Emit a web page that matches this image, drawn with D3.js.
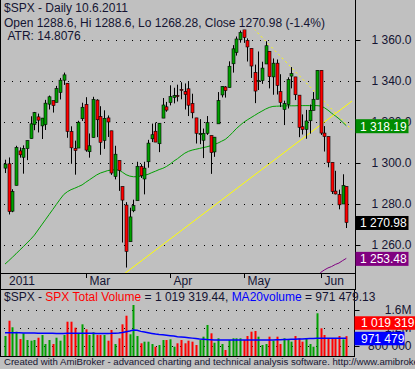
<!DOCTYPE html>
<html><head><meta charset="utf-8">
<script src="https://cdn.jsdelivr.net/npm/d3@7"></script>
<style>
body{margin:0;background:#c0c0c0;overflow:hidden;}
svg{display:block;font-family:"Liberation Sans",Arial,sans-serif;}
</style>
</head><body>
<svg id="c" width="415" height="369"></svg>
<script>
// ---------- DATA ----------
const dates = ["2011-01-27","2011-01-28","2011-01-31",
"2011-02-01","2011-02-02","2011-02-03","2011-02-04","2011-02-07","2011-02-08","2011-02-09","2011-02-10","2011-02-11","2011-02-14","2011-02-15","2011-02-16","2011-02-17","2011-02-18","2011-02-22","2011-02-23","2011-02-24","2011-02-25","2011-02-28",
"2011-03-01","2011-03-02","2011-03-03","2011-03-04","2011-03-07","2011-03-08","2011-03-09","2011-03-10","2011-03-11","2011-03-14","2011-03-15","2011-03-16","2011-03-17","2011-03-18","2011-03-21","2011-03-22","2011-03-23","2011-03-24","2011-03-25","2011-03-28","2011-03-29","2011-03-30","2011-03-31",
"2011-04-01","2011-04-04","2011-04-05","2011-04-06","2011-04-07","2011-04-08","2011-04-11","2011-04-12","2011-04-13","2011-04-14","2011-04-15","2011-04-18","2011-04-19","2011-04-20","2011-04-21","2011-04-25","2011-04-26","2011-04-27","2011-04-28","2011-04-29",
"2011-05-02","2011-05-03","2011-05-04","2011-05-05","2011-05-06","2011-05-09","2011-05-10","2011-05-11","2011-05-12","2011-05-13","2011-05-16","2011-05-17","2011-05-18","2011-05-19","2011-05-20","2011-05-23","2011-05-24","2011-05-25","2011-05-26","2011-05-27","2011-05-31",
"2011-06-01","2011-06-02","2011-06-03","2011-06-06","2011-06-07","2011-06-08","2011-06-09","2011-06-10"];

const openP = [1297.5,1299.6,1276.5,
1289.1,1305.9,1302.8,1307.0,1311.9,1318.8,1322.5,1318.1,1318.7,1328.7,1330.4,1329.6,1334.4,1340.4,1338.9,1315.4,1307.1,1307.3,1321.6,
1328.6,1305.5,1312.4,1330.7,1322.7,1311.0,1322.0,1315.7,1293.4,1301.2,1288.5,1279.5,1261.6,1276.7,1281.6,1298.3,1292.2,1300.6,1311.8,1315.5,1309.4,1321.9,1327.4,
1329.5,1332.0,1332.9,1335.9,1334.8,1336.2,1329.0,1322.0,1314.0,1311.1,1314.5,1313.4,1305.4,1319.1,1333.2,1337.1,1336.8,1348.4,1353.9,1360.1,
1365.2,1359.8,1355.9,1344.2,1340.2,1340.2,1348.3,1354.5,1342.0,1348.7,1334.8,1326.1,1328.5,1342.4,1342.0,1333.1,1317.7,1316.4,1320.6,1325.7,1331.1,
1345.2,1314.6,1312.9,1300.3,1286.3,1284.6,1280.0,1288.6];
const highP = [1301.6,1302.7,1287.2,
1308.4,1307.6,1308.6,1311.0,1322.8,1324.9,1324.1,1322.0,1330.8,1332.9,1330.4,1337.6,1341.5,1344.1,1338.9,1317.9,1310.9,1320.6,1329.4,
1332.1,1314.4,1332.3,1331.1,1327.7,1325.7,1323.2,1315.7,1308.4,1301.2,1288.5,1280.9,1278.2,1282.1,1300.6,1299.4,1300.6,1311.3,1319.2,1319.7,1319.5,1331.7,1329.8,
1337.9,1336.7,1338.2,1339.4,1338.8,1339.5,1333.8,1322.0,1321.4,1316.8,1322.9,1313.4,1312.7,1334.6,1337.5,1337.5,1349.6,1357.5,1361.7,1364.6,
1370.6,1360.8,1355.9,1348.0,1354.4,1349.4,1359.4,1354.5,1351.0,1350.5,1343.3,1330.4,1341.8,1346.8,1342.0,1333.1,1323.7,1325.9,1328.5,1334.6,1345.2,
1345.2,1318.0,1312.9,1300.3,1296.2,1287.0,1294.5,1288.6];
const lowP = [1295.1,1274.9,1276.0,
1289.1,1302.6,1294.8,1301.4,1311.9,1316.0,1314.9,1311.7,1316.1,1326.1,1324.6,1329.6,1331.0,1338.1,1312.3,1299.6,1294.3,1307.3,1320.5,
1305.5,1302.6,1312.4,1312.6,1304.0,1306.9,1312.7,1294.2,1292.0,1286.4,1261.2,1249.0,1261.6,1276.0,1281.6,1292.7,1284.7,1297.7,1310.2,1310.2,1305.3,1321.9,1325.0,
1328.1,1329.1,1330.0,1331.1,1326.1,1322.9,1321.8,1309.5,1309.2,1302.4,1313.7,1294.7,1303.0,1319.1,1332.0,1331.9,1336.8,1344.1,1352.4,1358.7,
1358.6,1349.5,1341.5,1329.2,1335.6,1338.6,1348.3,1336.4,1333.3,1333.4,1327.3,1318.5,1326.6,1336.4,1330.7,1312.6,1313.9,1311.8,1314.3,1325.7,1331.1,
1313.7,1305.6,1297.9,1284.9,1284.7,1277.4,1280.0,1268.28];
const closeP = [1299.5,1276.3,1286.1,
1307.6,1304.0,1307.1,1310.9,1319.1,1324.6,1320.9,1321.9,1329.2,1332.3,1328.0,1336.3,1340.4,1343.0,1315.4,1307.4,1306.1,1319.9,1327.2,
1306.3,1308.4,1331.0,1321.1,1310.1,1321.8,1320.0,1295.1,1304.3,1296.4,1281.9,1256.9,1273.7,1279.2,1298.4,1293.8,1297.5,1309.7,1313.8,1310.2,1319.4,1328.3,1325.8,
1332.4,1332.9,1332.6,1335.5,1333.5,1328.2,1324.5,1314.5,1314.4,1314.5,1319.7,1305.1,1312.6,1330.4,1337.4,1335.3,1347.2,1355.7,1360.5,1363.6,
1361.2,1356.6,1347.3,1335.1,1340.2,1346.3,1357.2,1342.1,1348.7,1337.8,1329.5,1329.0,1340.7,1343.6,1333.3,1317.4,1316.3,1320.5,1325.7,1331.1,1345.2,
1314.6,1312.9,1300.2,1286.1,1284.9,1279.6,1289.0,1270.98];

// moving average of price (green line)
const priceMA = [1250.7,1252.3,1254.0,1255.7,1257.5,1259.2,1261.0,1262.8,1264.8,1267.3,1269.8,1272.3,1274.8,1277.3,1279.8,1282.3,1284.6,1286.0,1287.0,1287.7,1288.5,1289.3,
1290.6,1291.8,1293.0,1294.2,1295.1,1295.7,1296.3,1296.6,1296.7,1296.6,1295.5,1294.3,1293.6,1293.3,1293.3,1293.6,1294.0,1294.5,1295.3,1296.0,1296.8,1297.4,1298.3,
1299.5,1300.9,1302.1,1303.5,1304.8,1305.7,1306.3,1306.7,1307.1,1307.5,1307.9,1308.4,1309.0,1309.7,1310.6,1311.5,1313.0,1314.8,1316.7,1318.3,
1319.8,1321.0,1322.1,1323.2,1324.3,1325.3,1326.3,1327.1,1327.6,1327.7,1327.8,1327.8,1327.9,1327.9,1327.9,1328.0,1328.0,1328.0,1328.0,1328.0,1328.0,
1327.8,1327.0,1325.8,1324.3,1323.0,1321.6,1319.9,1318.19];

// purple lower line (only visible at the end)
const lowerLine = [null,null,null,null,null,null,null,null,null,null,null,null,null,null,null,null,null,null,null,null,null,null,
null,null,null,null,null,null,null,null,null,null,null,null,null,null,null,null,null,null,null,null,null,null,null,
null,null,null,null,null,null,null,null,null,null,null,null,null,null,null,null,null,null,null,null,
null,null,null,null,null,null,null,null,null,null,null,null,null,null,null,null,null,null,null,null,1244.5,
1246.6,1247.8,1248.8,1249.5,1250.5,1251.2,1252.4,1253.48];

const volume = [1022000,1362000,1216000,1118000,956000,1082000,933000,918000,933000,984000,1044000,844000,933000,844000,984000,918000,1044000,1340000,1340000,1207000,1089000,1282000,
1171000,1044000,1104000,1044000,1044000,1044000,918000,1156000,844000,971000,1282000,1473000,1060000,1711000,1022000,860000,896000,896000,844000,784000,822000,933000,933000,
949000,784000,860000,933000,860000,918000,896000,822000,933000,1007000,1267000,1082000,873000,971000,844000,711000,933000,971000,971000,971000,
933000,1022000,1118000,1133000,1007000,822000,844000,1007000,918000,1007000,844000,971000,933000,896000,1022000,971000,896000,971000,844000,784000,1527000,
1193000,1044000,971000,971000,971000,1022000,949000,1019319.44];

const volumeMA20 = [1096000,1095000,1094000,1093000,1092000,1091000,1090000,1089000,1087000,1085000,1084000,1083000,1082000,1081000,1080000,1080000,1080000,1082000,1083000,1082000,1081000,1082000,
1083000,1082000,1081000,1080000,1080000,1080000,1080000,1081000,1085000,1090000,1100000,1118000,1135000,1155000,1148000,1125000,1110000,1095000,1080000,1065000,1055000,1048000,1040000,
1030000,1020000,1008000,1000000,992000,985000,975000,965000,955000,948000,942000,938000,935000,933000,933000,933000,933000,933000,933000,933000,
933000,933000,933000,933000,933000,933000,933000,933000,935000,937000,940000,943000,946000,949000,952000,955000,958000,961000,964000,967000,970000,
971000,971000,971000,971000,971000,971000,971000,971479.13];

const priceTicks = [1260,1280,1300,1320,1340,1360];
const volumeTicks = [800000,1200000,1600000];
const monthNames = ["Jan","Feb","Mar","Apr","May","Jun"];

// trend lines drawn on the chart: [bar index, price]
const supportLine = [[32.7,1246.2],[94.55,1330.2]];
const resistanceLine = [[65,1370.6],[94.55,1316.1]];

// ---------- CHART ----------
const svg = d3.select("#c");
const W = 415, H = 369;
const plotR = 355, priceTop = 0, priceBot = 273;
const volTop = 290, volBot = 356;
const txt = "#141432";
const BG = "#c0c0c0";

svg.append("rect").attr("width",W).attr("height",H).attr("fill",BG);

const x = d3.scaleLinear().domain([0, dates.length-1]).range([5, 346.3]);
const y = d3.scaleLinear().domain([1260,1360]).range([245,40]);
const yv = d3.scaleLinear().domain([800000,1600000]).range([346,310]);

const defs = svg.append("defs");
defs.append("clipPath").attr("id","pclip").append("rect").attr("x",1).attr("y",priceTop).attr("width",plotR-1).attr("height",priceBot-priceTop);
defs.append("clipPath").attr("id","vclip").append("rect").attr("x",1).attr("y",volTop).attr("width",plotR-2).attr("height",volBot-volTop);

const spaceFmt = f => v => d3.format(f)(v).replace(/,/g," ");

// dotted gridlines
const grid = svg.append("g");
function dottedH(g, yy, x0, x1){
  g.append("line").attr("x1",x0).attr("x2",x1).attr("y1",Math.round(yy)+0.5).attr("y2",Math.round(yy)+0.5)
   .attr("stroke","#000").attr("stroke-width",1).attr("stroke-dasharray","1,7");
}
priceTicks.forEach(t => dottedH(grid, y(t), 4, plotR-1));
volumeTicks.forEach(t => dottedH(grid, yv(t), 4, plotR-2));

// price panel contents
const pg = svg.append("g").attr("clip-path","url(#pclip)");

pg.append("path").datum(priceMA)
  .attr("d", d3.line().x((d,i)=>x(i)).y(d=>y(d)))
  .attr("fill","none").attr("stroke","#00a000").attr("stroke-width",1);

pg.append("path").datum(lowerLine)
  .attr("d", d3.line().defined(d=>d!==null).x((d,i)=>x(i)).y(d=>y(d)))
  .attr("fill","none").attr("stroke","#800080").attr("stroke-width",1);

pg.append("line")
  .attr("x1",x(supportLine[0][0])).attr("y1",y(supportLine[0][1]))
  .attr("x2",x(supportLine[1][0])).attr("y2",y(supportLine[1][1]))
  .attr("stroke","#ffff00").attr("stroke-width",1);
pg.append("line")
  .attr("x1",x(resistanceLine[0][0])).attr("y1",y(resistanceLine[0][1]))
  .attr("x2",x(resistanceLine[1][0])).attr("y2",y(resistanceLine[1][1]))
  .attr("stroke","#ffff00").attr("stroke-width",1).attr("stroke-dasharray","2,3");

const candles = pg.append("g");
dates.forEach((d,i) => {
  const cx = Math.round(x(i));
  const up = closeP[i] >= openP[i];
  candles.append("line").attr("x1",cx+0.5).attr("x2",cx+0.5)
    .attr("y1",y(highP[i])).attr("y2",y(lowP[i])).attr("stroke","#000").attr("stroke-width",1);
  const top = y(Math.max(openP[i],closeP[i])), bot = y(Math.min(openP[i],closeP[i]));
  candles.append("rect").attr("x",cx-1).attr("width",3)
    .attr("y",top).attr("height",Math.max(1,bot-top))
    .attr("fill", up ? "#00a000" : "#ff0000").attr("stroke","#000").attr("stroke-width",0.6);
});

// title texts (opaque background like the original)
function titleLine(xx, yy, str){
  const g = svg.append("g");
  const bgr = g.append("rect").attr("fill",BG);
  const t = g.append("text").attr("x",xx).attr("y",yy).attr("font-size",12).attr("fill",txt).text(str);
  const b = t.node().getBBox();
  bgr.attr("x",3).attr("y",b.y).attr("width",b.x+b.width+1-3).attr("height",b.height);
}
titleLine(4, 12, "$SPX - Daily 10.6.2011");
titleLine(4, 26.5, `Open ${openP[93]}, Hi ${highP[93]}, Lo ${lowP[93]}, Close ${closeP[93]} (-1.4%)`);
titleLine(7.5, 40, "ATR: 14.8076");

// frame lines
svg.append("line").attr("x1",0.5).attr("x2",0.5).attr("y1",0).attr("y2",volBot+0.5).attr("stroke","#000");
svg.append("line").attr("x1",plotR+0.5).attr("x2",plotR+0.5).attr("y1",0).attr("y2",289.5).attr("stroke","#000");
svg.append("line").attr("x1",0).attr("x2",plotR+1).attr("y1",priceBot+0.5).attr("y2",priceBot+0.5).attr("stroke","#000");
svg.append("line").attr("x1",0).attr("x2",plotR+1).attr("y1",289.5).attr("y2",289.5).attr("stroke","#000");
svg.append("line").attr("x1",plotR-0.5).attr("x2",plotR-0.5).attr("y1",volTop).attr("y2",volBot+0.5).attr("stroke","#000");
svg.append("line").attr("x1",0).attr("x2",plotR).attr("y1",volBot+0.5).attr("y2",volBot+0.5).attr("stroke","#000");

// price axis
const pAxis = svg.append("g").attr("transform",`translate(${plotR+0.5},0)`)
  .call(d3.axisRight(y).tickValues(priceTicks).tickSize(5).tickFormat(spaceFmt(",.1f")));
pAxis.select(".domain").remove();
pAxis.selectAll("line").attr("stroke","#000");
pAxis.selectAll("text").attr("x",56).attr("text-anchor","end").attr("fill",txt)
  .attr("font-size",12).attr("font-family","Liberation Sans, Arial, sans-serif");

// price value boxes
function valueBox(val, bg, yc, fmt){
  const g = svg.append("g");
  g.append("rect").attr("x",plotR+0.5).attr("y",yc-6.5).attr("width",53).attr("height",14).attr("fill",bg);
  g.append("text").attr("x",plotR+5).attr("y",yc+4.8).attr("fill","#fff").attr("font-size",12).text(fmt(val));
}
valueBox(priceMA[93], "#008c00", y(priceMA[93]), spaceFmt(",.2f"));
valueBox(closeP[93], "#000000", y(closeP[93]), spaceFmt(",.2f"));
valueBox(lowerLine[93], "#800080", y(lowerLine[93]), spaceFmt(",.2f"));

// date axis
const dg = svg.append("g").attr("font-size",12).attr("fill",txt);
dates.forEach((d,i) => {
  const m = +d.slice(5,7), pm = i>0 ? +dates[i-1].slice(5,7) : null;
  if (i===0) {
    dg.append("text").attr("x",x(i)+4).attr("y",285).text(d.slice(0,4));
  } else if (m !== pm && m !== 2) {
    const xx = Math.round(x(i))+0.5;
    dg.append("line").attr("x1",xx).attr("x2",xx).attr("y1",priceBot).attr("y2",priceBot+5).attr("stroke","#000");
    dg.append("text").attr("x",xx+3).attr("y",285).text(monthNames[m-1]);
  }
});

// volume panel
const vg = svg.append("g").attr("clip-path","url(#vclip)");
volume.forEach((v,i) => {
  const up = closeP[i] >= openP[i];
  const cx = Math.round(x(i));
  vg.append("rect").attr("x",cx-0.5).attr("width",2).attr("y",yv(v)).attr("height",volBot+1-yv(v))
    .attr("fill", up ? "#00a000" : "#ff0000");
});
vg.append("path").datum(volumeMA20)
  .attr("d", d3.line().x((d,i)=>x(i)).y(d=>yv(d)))
  .attr("fill","none").attr("stroke","#0000ff").attr("stroke-width",1.5);

const vt = svg.append("text").attr("x",4).attr("y",301).attr("font-size",12).attr("fill",txt);
vt.append("tspan").text("$SPX - ");
vt.append("tspan").attr("fill","#ff0000").text("SPX Total Volume");
vt.append("tspan").text(" = " + spaceFmt(",.2f")(volume[93]) + ", ");
vt.append("tspan").attr("fill","#0000ff").text("MA20volume");
vt.append("tspan").text(" = " + spaceFmt(",.2f")(volumeMA20[93]));

const vAxis = svg.append("g").attr("transform",`translate(${plotR-0.5},0)`)
  .call(d3.axisRight(yv).tickValues(volumeTicks).tickSize(5)
     .tickFormat(v => v>=1000000 ? d3.format(".1f")(v/1e6)+"M" : spaceFmt(",.0f")(v)));
vAxis.select(".domain").remove();
vAxis.selectAll("line").attr("stroke","#000");
vAxis.selectAll("text").attr("x",57).attr("text-anchor","end").attr("fill",txt)
  .attr("font-size",12).attr("font-family","Liberation Sans, Arial, sans-serif");

// volume value boxes
const blueY = yv(volumeMA20[93]);
let redY = yv(volume[93]);
if (Math.abs(redY - blueY) < 15) redY = blueY - 15.5;
function vBox(val, bg, yc, w){
  const g = svg.append("g");
  g.append("rect").attr("x",plotR-0.5).attr("y",yc-6.5).attr("width",w).attr("height",13.5).attr("fill",bg);
  g.append("text").attr("x",plotR+6).attr("y",yc+4.5).attr("fill","#fff").attr("font-size",12)
    .text(spaceFmt(",.0f")(val));
}
vBox(volume[93], "#ff0000", redY, 70);
vBox(volumeMA20[93], "#0000ff", blueY, 50);

// footer
svg.append("text").attr("x",4).attr("y",365).attr("font-size",9.6).attr("fill",txt)
  .text("Created with AmiBroker - advanced charting and technical analysis software. http://www.amibroker.com/");
</script>
</body></html>
